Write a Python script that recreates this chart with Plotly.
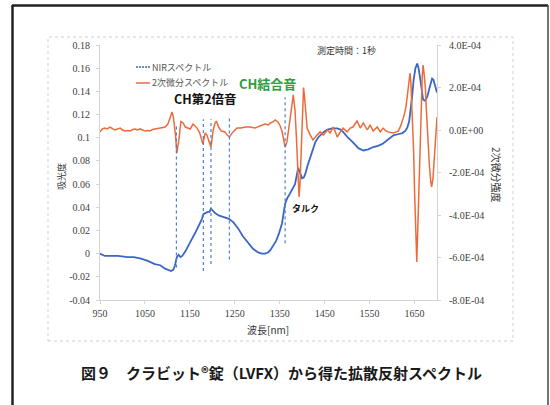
import plotly.graph_objects as go

# ---- NIR absorbance spectrum (left axis) ----
nir_wavelength = [950, 961, 975, 990, 1012, 1025, 1039, 1055, 1072, 1084, 1095, 1101, 1108, 1113,
                  1117, 1121, 1125, 1129, 1133, 1140, 1146, 1155, 1162, 1170, 1177, 1180, 1185,
                  1190, 1194, 1197, 1201, 1206, 1214, 1222, 1230, 1237, 1247, 1257, 1268, 1280,
                  1291, 1302, 1310, 1317, 1324, 1329, 1336, 1342, 1348, 1355, 1362, 1367, 1373,
                  1379, 1384, 1388, 1391, 1395, 1400, 1404, 1407, 1412, 1418, 1424, 1429, 1435,
                  1440, 1448, 1456, 1467, 1478, 1485, 1491, 1502, 1513, 1525, 1536, 1547, 1558,
                  1569, 1580, 1591, 1603, 1613, 1623, 1630, 1634, 1638, 1641, 1645, 1648, 1652,
                  1656, 1659, 1663, 1666, 1669, 1673, 1678, 1682, 1685, 1689, 1692, 1696, 1700]
nir_absorbance = [0.000, -0.002, -0.002, -0.002, -0.003, -0.003, -0.004, -0.006, -0.009, -0.010,
                  -0.013, -0.014, -0.015, -0.014, -0.010, -0.003, -0.001, -0.003, -0.002, 0.002,
                  0.007, 0.013, 0.018, 0.024, 0.030, 0.034, 0.035, 0.036, 0.036, 0.039, 0.037,
                  0.035, 0.033, 0.032, 0.031, 0.030, 0.027, 0.022, 0.015, 0.009, 0.004, 0.001,
                  0.000, 0.000, 0.001, 0.003, 0.008, 0.011, 0.017, 0.026, 0.043, 0.048, 0.052,
                  0.056, 0.060, 0.068, 0.074, 0.070, 0.065, 0.066, 0.069, 0.076, 0.083, 0.090,
                  0.096, 0.100, 0.102, 0.105, 0.107, 0.108, 0.108, 0.107, 0.105, 0.100, 0.096,
                  0.091, 0.089, 0.090, 0.092, 0.093, 0.095, 0.098, 0.102, 0.103, 0.104, 0.106,
                  0.109, 0.114, 0.122, 0.137, 0.150, 0.160, 0.164, 0.160, 0.150, 0.140, 0.133,
                  0.132, 0.135, 0.141, 0.145, 0.151, 0.150, 0.145, 0.139]

# ---- second-derivative spectrum (right axis) ----
d2_wavelength = [950, 955, 961, 966, 972, 978, 983, 989, 995, 1000, 1006, 1012, 1017, 1023, 1028,
                 1034, 1039, 1045, 1050, 1056, 1061, 1067, 1072, 1078, 1084, 1090, 1095, 1101,
                 1106, 1110, 1113, 1115, 1118, 1121, 1124, 1126, 1130, 1135, 1140, 1146, 1151,
                 1157, 1166, 1172, 1179, 1184, 1188, 1193, 1197, 1202, 1206, 1209, 1214, 1220,
                 1228, 1233, 1238, 1246, 1255, 1264, 1273, 1284, 1295, 1306, 1317, 1325, 1329,
                 1335, 1340, 1346, 1351, 1355, 1358, 1362, 1366, 1369, 1372, 1375, 1378, 1380,
                 1382, 1384, 1387, 1389, 1391, 1393, 1395, 1397, 1399, 1401, 1403, 1405, 1407,
                 1409, 1411, 1418, 1424, 1433, 1440, 1447, 1456, 1462, 1469, 1474, 1478, 1485,
                 1491, 1500, 1507, 1513, 1518, 1522, 1526, 1529, 1536, 1541, 1545, 1551, 1558,
                 1567, 1574, 1580, 1585, 1591, 1597, 1603, 1608, 1614, 1620, 1627, 1631, 1634,
                 1637, 1640, 1642, 1645, 1648, 1650, 1652, 1655, 1657, 1660, 1662, 1665, 1667,
                 1669, 1671, 1674, 1676, 1678, 1681, 1683, 1686, 1688, 1691, 1694, 1697, 1700]
d2_intensity = [-0.09e-4, 0.05e-4, 0.09e-4, 0.05e-4, 0.14e-4, 0.05e-4, 0.0, 0.05e-4, 0.09e-4, 0.0,
                -0.05e-4, -0.02e-4, -0.05e-4, 0.02e-4, 0.05e-4, 0.0, 0.05e-4, 0.0, -0.05e-4,
                -0.02e-4, -0.05e-4, 0.02e-4, 0.05e-4, 0.07e-4, 0.09e-4, 0.12e-4, 0.14e-4,
                0.28e-4, 0.56e-4, 0.85e-4, 0.65e-4, 0.38e-4, -0.24e-4, -1.08e-4, -0.70e-4,
                -0.38e-4, 0.40e-4, 0.33e-4, 0.14e-4, 0.09e-4, 0.05e-4, 0.28e-4, 0.09e-4,
                -0.14e-4, -0.66e-4, -0.14e-4, -0.24e-4, -0.56e-4, -0.80e-4, 0.0, 0.33e-4,
                0.42e-4, 0.14e-4, -0.05e-4, -0.09e-4, -0.24e-4, -0.33e-4, -0.09e-4, 0.09e-4,
                0.09e-4, 0.14e-4, 0.14e-4, 0.09e-4, 0.19e-4, 0.28e-4, 0.24e-4, 0.33e-4,
                0.38e-4, 0.47e-4, 0.38e-4, 0.19e-4, -0.05e-4, -0.38e-4, -0.80e-4, -0.56e-4,
                -0.14e-4, 0.28e-4, 0.71e-4, 1.30e-4, 1.65e-4, 1.40e-4, 0.94e-4, -0.30e-4,
                -1.41e-4, -2.50e-4, -3.15e-4, -2.60e-4, -1.60e-4, 0.0, 1.0e-4, 2.0e-4, 1.6e-4,
                0.94e-4, 0.40e-4, 0.09e-4, -0.24e-4, -0.47e-4, -0.24e-4, -0.09e-4, -0.24e-4,
                0.0, -0.14e-4, 0.14e-4, -0.10e-4, -0.33e-4, -0.09e-4, 0.09e-4, -0.09e-4,
                0.09e-4, 0.14e-4, 0.30e-4, 0.42e-4, 0.25e-4, 0.09e-4, 0.33e-4, 0.15e-4, 0.0,
                0.24e-4, -0.05e-4, 0.14e-4, -0.09e-4, 0.09e-4, -0.02e-4, -0.09e-4, -0.12e-4,
                -0.14e-4, -0.10e-4, -0.05e-4, 0.24e-4, 0.71e-4, 1.10e-4, 1.55e-4, 2.20e-4,
                2.68e-4, 2.20e-4, 0.94e-4, -1.00e-4, -2.82e-4, -4.60e-4, -6.21e-4, -4.80e-4,
                -2.96e-4, -1.00e-4, 0.94e-4, 2.50e-4, 3.06e-4, 2.70e-4, 2.02e-4, 1.10e-4,
                0.14e-4, -0.80e-4, -1.65e-4, -2.40e-4, -2.68e-4, -2.30e-4, -1.41e-4, -0.20e-4,
                0.60e-4]

# ---- axis ticks ----
x_ticks = [950, 1050, 1150, 1250, 1350, 1450, 1550, 1650]
left_ticks = [0.18, 0.16, 0.14, 0.12, 0.1, 0.08, 0.06, 0.04, 0.02, 0, -0.02, -0.04]
left_tick_labels = ["0.18", "0.16", "0.14", "0.12", "0.1", "0.08", "0.06", "0.04", "0.02",
                    "0", "-0.02", "-0.04"]
right_ticks = [4e-4, 2e-4, 0, -2e-4, -4e-4, -6e-4, -8e-4]
right_tick_labels = ["4.0E-04", "2.0E-04", "0.0E+00", "-2.0E-04", "-4.0E-04", "-6.0E-04",
                     "-8.0E-04"]

# ---- assigned bands: wavelength, lower / upper absorbance of the marker ----
band_wavelength = [1120, 1180, 1197, 1238, 1362]
band_low = [-0.012, -0.015, -0.009, -0.005, 0.009]
band_high = [0.112, 0.116, 0.116, 0.119, 0.135]

BLUE = "#3a66c4"
ORANGE = "#ec6b3c"
GREEN = "#2e9e3e"
JP = "Noto Sans CJK JP"
SERIF = "Liberation Serif"

# plot-area edges in page pixels, used to place decorations
PL, PR, PT, PB = 100, 437, 45, 300


def fx(px):
    return (px - PL) / (PR - PL)


def fy(py):
    return (PB - py) / (PB - PT)


fig = go.Figure()
fig.add_trace(go.Scatter(x=nir_wavelength, y=nir_absorbance, mode="lines",
                         line=dict(color=BLUE, width=1.8), name="NIRスペクトル", yaxis="y"))
fig.add_trace(go.Scatter(x=d2_wavelength, y=d2_intensity, mode="lines",
                         line=dict(color=ORANGE, width=1.5), name="2次微分スペクトル", yaxis="y2"))

shapes = []
for w, lo, hi in zip(band_wavelength, band_low, band_high):
    shapes.append(dict(type="line", xref="x", yref="y", x0=w, x1=w, y0=lo, y1=hi,
                       line=dict(color="#4a80d0", width=1.2, dash="3px,3px")))

# legend samples
shapes.append(dict(type="line", xref="paper", yref="paper", x0=fx(136), x1=fx(150),
                   y0=fy(67), y1=fy(67), line=dict(color=BLUE, width=1.5, dash="2px,1px")))
shapes.append(dict(type="line", xref="paper", yref="paper", x0=fx(136), x1=fx(150),
                   y0=fy(83), y1=fy(83), line=dict(color=ORANGE, width=1.5)))

# chart-area dotted border and outer frame
shapes.append(dict(type="rect", xref="paper", yref="paper", x0=fx(48), x1=fx(513),
                   y0=fy(341), y1=fy(37), line=dict(color="#cfcfcf", width=1, dash="dot")))
shapes.append(dict(type="line", xref="paper", yref="paper", x0=fx(12.5), x1=fx(12.5),
                   y0=fy(5), y1=fy(410), line=dict(color="#222222", width=2.5)))
shapes.append(dict(type="line", xref="paper", yref="paper", x0=fx(12), x1=fx(548),
                   y0=fy(5.5), y1=fy(5.5), line=dict(color="#222222", width=2.5)))
shapes.append(dict(type="line", xref="paper", yref="paper", x0=fx(548), x1=fx(548),
                   y0=fy(5), y1=fy(410), line=dict(color="#444444", width=1.5)))


def note(text, px, py, size, color="#222222", family=JP, xanchor="center", angle=0):
    return dict(text=text, x=fx(px), y=fy(py), xref="paper", yref="paper", showarrow=False,
                xanchor=xanchor, yanchor="middle", textangle=angle,
                font=dict(family=family, size=size, color=color))


annotations = [
    note("測定時間：1秒", 346, 50, 9, "#333333"),
    note("NIRスペクトル", 150, 67, 9, "#555555", xanchor="left"),
    note("2次微分スペクトル", 150, 82, 9, "#555555", xanchor="left"),
    note("<b>CH第2倍音</b>", 205, 98, 12.5, "#111111"),
    note("<b>CH結合音</b>", 267, 83, 13, GREEN),
    note("<b>タルク</b>", 290, 208, 9, "#111111", xanchor="left"),
    note("吸光度", 62, 177, 9, "#333333", angle=-90),
    note("2次微分強度", 497, 175, 10, "#333333", angle=90),
    note("波長[nm]", 268, 329, 10, "#333333"),
    note("<b>図９　クラビット®錠（LVFX）から得た拡散反射スペクトル</b>", 281, 373, 15, "#1a1a1a"),
]

fig.update_layout(
    width=550, height=405,
    margin=dict(l=PL, r=550 - PR, t=PT, b=405 - PB, pad=0),
    paper_bgcolor="white", plot_bgcolor="white",
    showlegend=False,
    font=dict(family=SERIF, size=10, color="#404040"),
    xaxis=dict(range=[950, 1700], tickvals=x_ticks, ticktext=[str(v) for v in x_ticks],
               showgrid=False, zeroline=False, showline=True, linecolor="#d4d4d4", linewidth=1,
               ticks="outside", ticklen=3, tickcolor="#d4d4d4",
               tickfont=dict(family=SERIF, size=10, color="#404040"), ticklabelstandoff=1),
    yaxis=dict(range=[-0.04, 0.18], tickvals=left_ticks, ticktext=left_tick_labels,
               showgrid=False, zeroline=False, showline=True, linecolor="#d4d4d4", linewidth=1,
               ticks="outside", ticklen=3, tickcolor="#d4d4d4",
               tickfont=dict(family=SERIF, size=10, color="#404040"), ticklabelstandoff=4),
    yaxis2=dict(range=[-8e-4, 4e-4], tickvals=right_ticks, ticktext=right_tick_labels,
                overlaying="y", side="right", showgrid=False, zeroline=False, showline=True,
                linecolor="#d4d4d4", linewidth=1, ticks="outside", ticklen=3,
                tickcolor="#d4d4d4", tickfont=dict(family=SERIF, size=10, color="#404040"),
                ticklabelstandoff=6),
    shapes=shapes,
    annotations=annotations,
)

fig.write_html("out.html")
